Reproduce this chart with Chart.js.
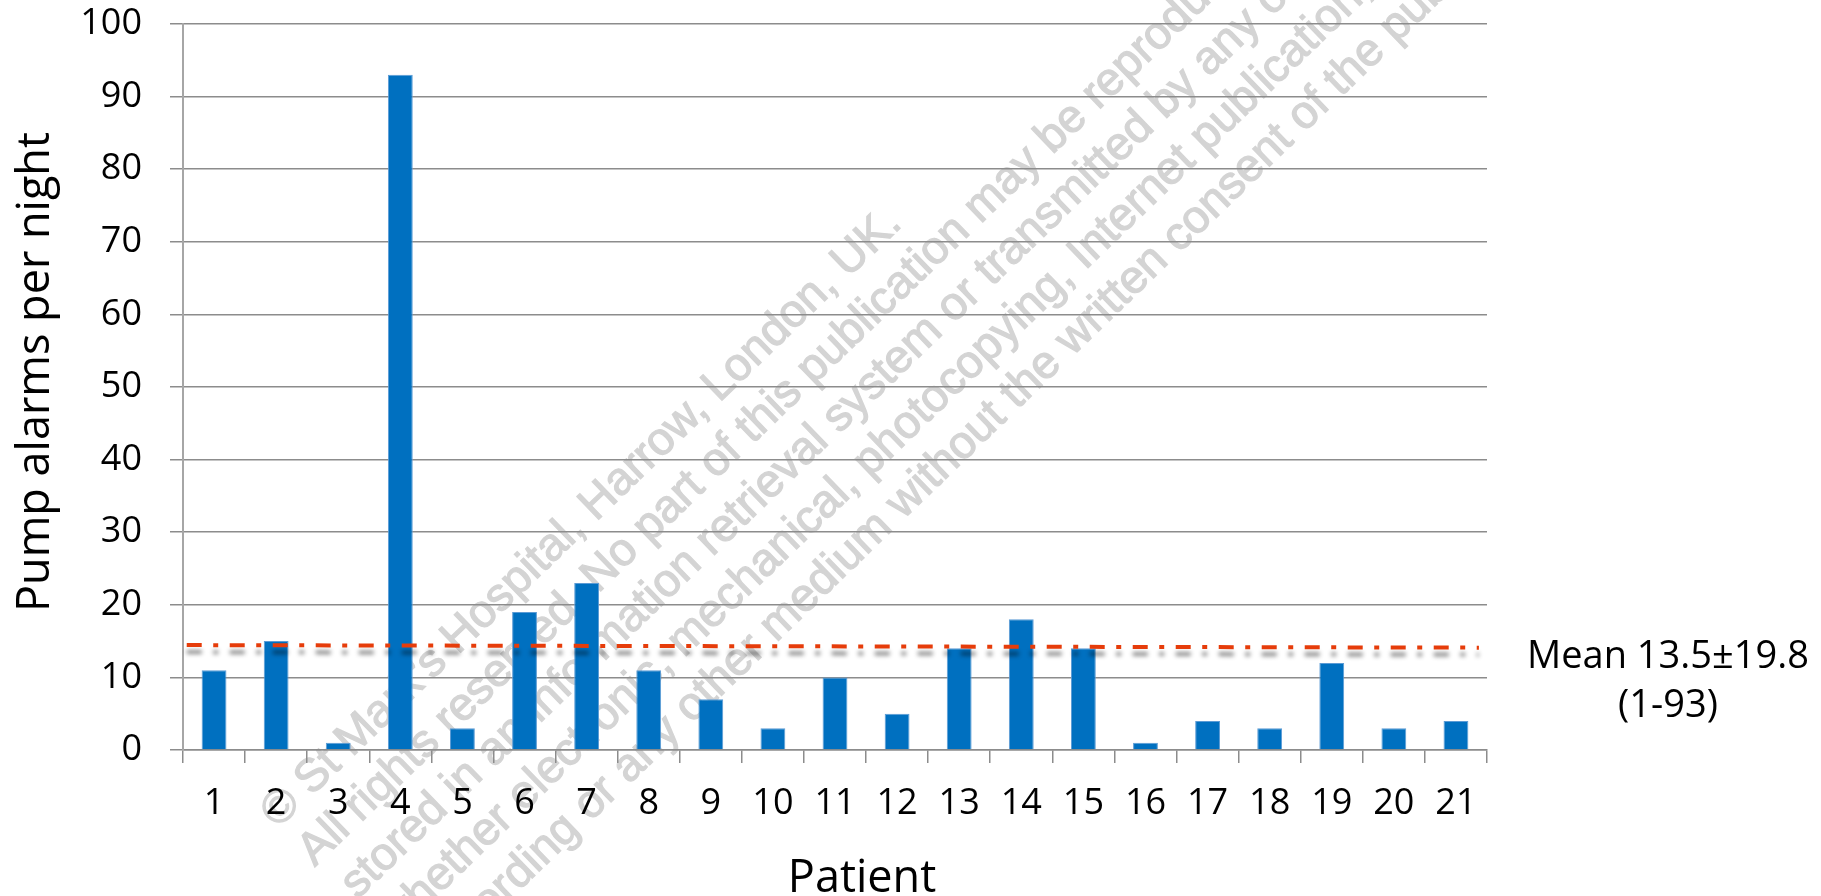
<!DOCTYPE html>
<html>
<head>
<meta charset="utf-8">
<title>Pump alarms per night</title>
<script src="https://cdn.jsdelivr.net/npm/chart.js@4.4.1/dist/chart.umd.min.js"></script>
<style>
  html, body { margin: 0; padding: 0; background: #fff; }
  canvas { display: block; }
</style>
</head>
<body>
<canvas id="alarm-chart" width="1821" height="896"></canvas>
<script>
// Chart data
const patients = ["1", "2", "3", "4", "5", "6", "7", "8", "9", "10", "11",
  "12", "13", "14", "15", "16", "17", "18", "19", "20", "21"];
const alarms = [11, 15, 1, 93, 3, 19, 23, 11, 7, 3, 10, 5, 14, 18, 14, 1, 4, 3, 12, 3, 4];
const meanLine = [14.45, 14.1];      // values at the two ends of the mean line
const meanSpan = [-0.44, 20.37];     // category units where the line starts / ends
const yMin = 0;
const yMax = 100;
const yStep = 10;
const yTitle = "Pump alarms per night";
const xTitle = "Patient";
const meanLabel = ["Mean 13.5\u00B119.8", "(1-93)"];
const watermark = [
  "\u00A9 St Mark\u2019s Hospital, Harrow, London, UK.",
  "All rights reserved. No part of this publication may be reproduced,",
  "stored in an information retrieval system or transmitted by any other means,",
  "whether electronic, mechanical, photocopying, Internet publication,",
  "recording or any other medium without the written consent of the publisher."
];

const FONT = "'Open Sans', sans-serif";
const GRID = "#8c8c8c";

// watermark, mean line, titles and mean label
const overlay = {
  id: "overlay",
  beforeDraw(chart) {
    const { ctx, chartArea } = chart;
    ctx.save();
    ctx.translate(chartArea.left + 95, chartArea.bottom + 79);
    ctx.rotate(-44 * Math.PI / 180);
    ctx.font = "46px 'Liberation Sans', Arial, sans-serif";
    ctx.fillStyle = "#d4d4d4";
    ctx.strokeStyle = "#d4d4d4";
    ctx.lineWidth = 1.2;
    ctx.textAlign = "left";
    ctx.textBaseline = "alphabetic";
    const shift = [0, 0, 8, 12, 25];
    watermark.forEach((line, i) => {
      ctx.fillText(line, shift[i], i * 53);
      ctx.strokeText(line, shift[i], i * 53);
    });
    ctx.restore();
  },
  afterDatasetsDraw(chart) {
    const { ctx, scales: { x, y } } = chart;
    ctx.save();
    ctx.shadowColor = "rgba(0,0,0,0.45)";
    ctx.shadowBlur = 4;
    ctx.shadowOffsetY = 7;
    ctx.strokeStyle = "#E63C0A";
    ctx.lineWidth = 4;
    ctx.setLineDash([15, 11.5, 5, 11.5]);
    ctx.beginPath();
    meanSpan.forEach((v, i) => {
      const px = x.getPixelForValue(v);
      const py = y.getPixelForValue(meanLine[i]);
      if (i === 0) ctx.moveTo(px, py); else ctx.lineTo(px, py);
    });
    ctx.stroke();
    ctx.restore();
  },
  afterDraw(chart) {
    const { ctx, chartArea } = chart;
    ctx.save();
    ctx.fillStyle = "#000";
    ctx.textBaseline = "alphabetic";
    ctx.textAlign = "center";

    // y axis title
    ctx.font = "45px " + FONT;
    ctx.save();
    ctx.translate(49, chartArea.top + 348);
    ctx.rotate(-Math.PI / 2);
    ctx.fillText(yTitle, 0, 0);
    ctx.restore();

    // x axis title
    ctx.fillText(xTitle, chartArea.left + 679, chartArea.bottom + 142);

    // mean label
    ctx.font = "38px " + FONT;
    ctx.fillText(meanLabel[0], chartArea.right + 181, chartArea.bottom - 82);
    ctx.fillText(meanLabel[1], chartArea.right + 181, chartArea.bottom - 33);
    ctx.restore();
  }
};

const ctx = document.getElementById("alarm-chart").getContext("2d");
new Chart(ctx, {
  type: "bar",
  data: {
    labels: patients,
    datasets: [{
      label: "Pump alarms",
      data: alarms,
      backgroundColor: "#0070C0",
      borderColor: "#5b9bd5",
      borderWidth: 1,
      borderSkipped: "bottom",
      barPercentage: 0.4,
      categoryPercentage: 1,
    }],
  },
  options: {
    responsive: false,
    devicePixelRatio: 1,
    animation: false,
    layout: {
      padding: { left: 0, right: 334, top: 24, bottom: 0 },
    },
    plugins: {
      legend: { display: false },
      tooltip: { enabled: false },
    },
    scales: {
      x: {
        type: "category",
        offset: true,
        grid: {
          offset: true,
          drawOnChartArea: false,
          drawTicks: true,
          tickLength: 13,
          color: GRID,
          lineWidth: 1.5,
        },
        border: { color: GRID, width: 1.5 },
        ticks: {
          font: { family: FONT, size: 36 },
          color: "#000",
          padding: 19,
          maxRotation: 0,
          autoSkip: false,
        },
        afterFit: (scale) => {
          scale.height = 146;
          scale.paddingLeft = 0;
          scale.paddingRight = 0;
        },
      },
      y: {
        min: yMin,
        max: yMax,
        ticks: {
          stepSize: yStep,
          font: { family: FONT, size: 36 },
          color: "#000",
          padding: 28,
        },
        grid: {
          color: GRID,
          lineWidth: 1.5,
          tickLength: 13,
        },
        border: { color: "#a6a6a6", width: 2 },
        afterFit: (scale) => {
          scale.width = 183;
          scale.paddingTop = 0;
          scale.paddingBottom = 0;
        },
      },
    },
  },
  plugins: [overlay],
});
</script>
</body>
</html>
